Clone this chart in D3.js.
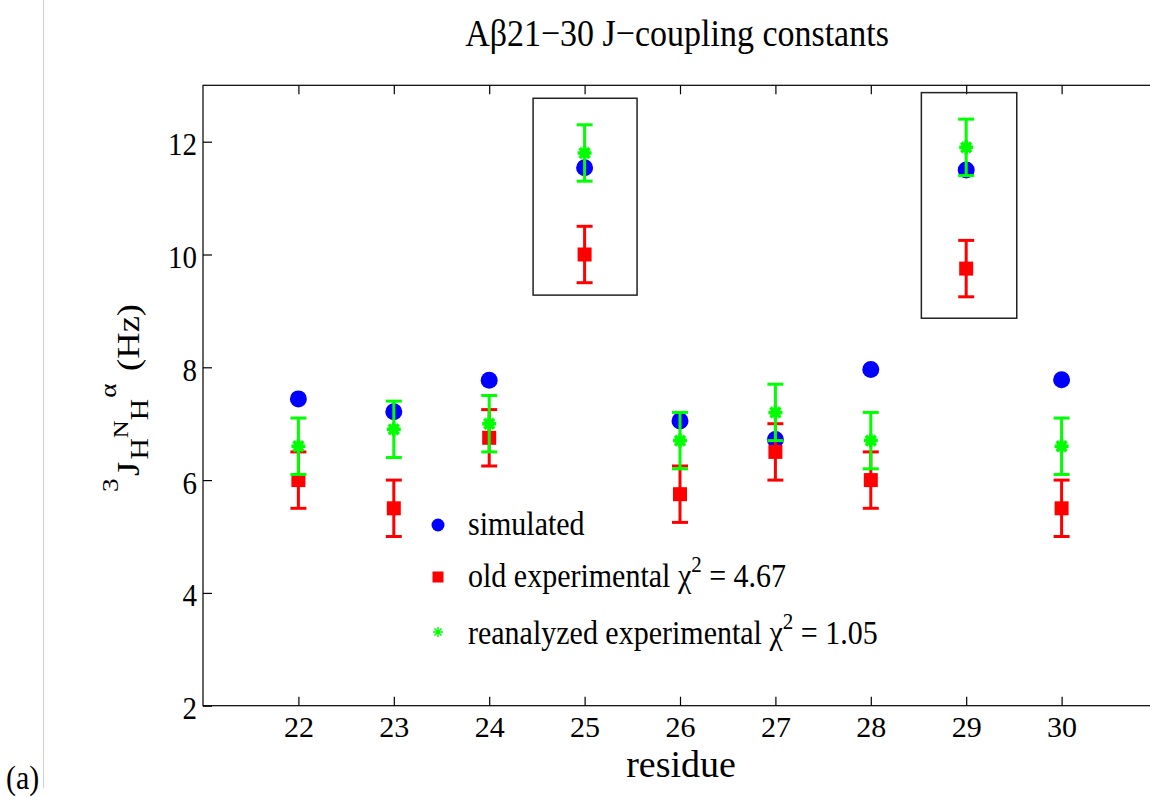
<!DOCTYPE html>
<html><head><meta charset="utf-8">
<script src="https://cdn.jsdelivr.net/npm/d3@7"></script>
<style>body{margin:0;background:#fff}svg{display:block}</style>
</head><body>
<svg id="c" width="1150" height="797"></svg>
<script>
const residues   = [22, 23, 24, 25, 26, 27, 28, 29, 30];
const simulated  = [7.44, 7.21, 7.77, 11.54, 7.05, 6.72, 7.96, 11.50, 7.78];
const oldExp     = [6.0, 5.5, 6.75, 10.0, 5.75, 6.5, 6.0, 9.75, 5.5];
const oldErr     = [0.5, 0.5, 0.5, 0.5, 0.5, 0.5, 0.5, 0.5, 0.5];
const reanalyzed = [6.6, 6.9, 7.0, 11.8, 6.7, 7.2, 6.7, 11.9, 6.6];
const reErr      = [0.5, 0.5, 0.5, 0.5, 0.5, 0.5, 0.5, 0.5, 0.5];
const xTicks = [22, 23, 24, 25, 26, 27, 28, 29, 30];
const yTicks = [2, 4, 6, 8, 10, 12];
const boxX0 = [24.46, 28.53], boxX1 = [25.55, 29.53];
const boxY0 = [9.28, 8.87],  boxY1 = [12.77, 12.87];
const legendLabels = ["simulated", "old experimental", "reanalyzed experimental"];
const legendChi = ["", "4.67", "1.05"];

const FONT = "'Liberation Serif','Times New Roman',serif";
const SY = 1.12;
const svg = d3.select("#c");
const L = 203, R = 1157, T = 85.3, B = 705.7;
const x = d3.scaleLinear().domain([21, 31]).range([L, R]);
const y = d3.scaleLinear().domain([2, 13]).range([B, T]);

svg.append("line").attr("x1", 43.5).attr("x2", 43.5).attr("y1", 0).attr("y2", 788)
  .attr("stroke", "#d0d0d0").attr("stroke-width", 1);

svg.append("rect").attr("x", L).attr("y", T).attr("width", R - L).attr("height", B - T)
  .attr("fill", "none").attr("stroke", "#000").attr("stroke-width", 1.2);

const tl = 9;
const gx = svg.append("g").attr("transform", `translate(0,${B})`)
  .call(d3.axisBottom(x).tickValues(xTicks).tickSize(-tl).tickFormat(d3.format("d")));
const gxt = svg.append("g").attr("transform", `translate(0,${T})`)
  .call(d3.axisTop(x).tickValues(xTicks).tickSize(-tl).tickFormat(""));
const gy = svg.append("g").attr("transform", `translate(${L},0)`)
  .call(d3.axisLeft(y).tickValues(yTicks).tickSize(-tl).tickFormat(d3.format("d")));
[gx, gxt, gy].forEach(g => {
  g.select(".domain").remove();
  g.selectAll(".tick line").attr("stroke", "#000").attr("stroke-width", 1.2);
  g.selectAll("text").attr("font-family", FONT).attr("font-size", 30).attr("fill", "#000");
});
gx.selectAll(".tick text").attr("y", 31.5).attr("dy", null);
gy.selectAll(".tick text").attr("x", null).attr("dy", null).attr("text-anchor", "end")
  .attr("transform", `translate(-6,13) scale(1,${SY})`).attr("font-size", 29);

svg.append("g").selectAll("rect").data(boxX0).join("rect")
  .attr("x", (d, i) => x(boxX0[i])).attr("width", (d, i) => x(boxX1[i]) - x(boxX0[i]))
  .attr("y", (d, i) => y(boxY1[i])).attr("height", (d, i) => y(boxY0[i]) - y(boxY1[i]))
  .attr("fill", "none").attr("stroke", "#222").attr("stroke-width", 1.5);

const cap = 8;
svg.append("g").selectAll("circle").data(residues).join("circle")
  .attr("cx", (d) => x(d)).attr("cy", (d, i) => y(simulated[i])).attr("r", 8.5)
  .attr("fill", "#0000ff");

function errorbars(vals, errs, color) {
  const g = svg.append("g").attr("stroke", color).attr("stroke-width", 3).attr("fill", "none");
  residues.forEach((r, i) => {
    const cx = x(r), lo = y(vals[i] - errs[i]), hi = y(vals[i] + errs[i]);
    g.append("line").attr("x1", cx).attr("x2", cx).attr("y1", lo).attr("y2", hi);
    g.append("line").attr("x1", cx - cap).attr("x2", cx + cap).attr("y1", lo).attr("y2", lo);
    g.append("line").attr("x1", cx - cap).attr("x2", cx + cap).attr("y1", hi).attr("y2", hi);
  });
}
errorbars(oldExp, oldErr, "#ff0000");
svg.append("g").selectAll("rect").data(residues).join("rect")
  .attr("x", (d) => x(d) - 7).attr("y", (d, i) => y(oldExp[i]) - 7)
  .attr("width", 14).attr("height", 14).attr("fill", "#ff0000");

errorbars(reanalyzed, reErr, "#00ff00");
function asterisk(g, cx, cy, s, w) {
  const d = s * 0.7071;
  const p = `M${cx - s},${cy}L${cx + s},${cy}M${cx},${cy - s}L${cx},${cy + s}` +
    `M${cx - d},${cy - d}L${cx + d},${cy + d}M${cx - d},${cy + d}L${cx + d},${cy - d}`;
  g.append("path").attr("d", p).attr("stroke", "#00ff00").attr("stroke-width", w).attr("fill", "none");
}
const ga = svg.append("g");
residues.forEach((r, i) => {
  asterisk(ga, x(r), y(reanalyzed[i]), 7, 3.5);
  ga.append("circle").attr("cx", x(r)).attr("cy", y(reanalyzed[i])).attr("r", 5).attr("fill", "#00ff00");
});

function stext(px, py, size, anchor) {
  return svg.append("text").attr("transform", `translate(${px},${py}) scale(1,${SY})`)
    .attr("text-anchor", anchor || "start").attr("font-family", FONT).attr("font-size", size).attr("fill", "#000");
}
stext(677, 46, 34, "middle").text("Aβ21−30 J−coupling constants");
svg.append("text").attr("x", 681).attr("y", 777).attr("text-anchor", "middle")
  .attr("font-family", FONT).attr("font-size", 38).attr("fill", "#000").text("residue");
stext(6, 789, 30).text("(a)");

// y label
const yl = svg.append("text").attr("transform", "translate(139,398) scale(1,1.18) rotate(-90)")
  .attr("text-anchor", "middle").attr("font-family", FONT).attr("font-size", 31).attr("fill", "#000");
yl.append("tspan").attr("font-size", 23).attr("dy", -21).text("3");
yl.append("tspan").attr("dx", 2).attr("dy", 21).text("J");
yl.append("tspan").attr("font-size", 25).attr("dx", 2).attr("dy", 9).text("H");
yl.append("tspan").attr("font-size", 21).attr("dx", 0).attr("dy", -20).text("N");
yl.append("tspan").attr("font-size", 25).attr("dx", 0).attr("dy", 20).text("H");
yl.append("tspan").attr("font-size", 23).attr("dx", 1).attr("dy", -32).text("α");
yl.append("tspan").attr("dx", 3).attr("dy", 23).text(" (Hz)");

// legend
const lx = 438, ly = [525, 577, 632], lb = [535, 587, 644];
svg.append("circle").attr("cx", lx).attr("cy", ly[0]).attr("r", 6.5).attr("fill", "#0000ff");
svg.append("rect").attr("x", lx - 5.5).attr("y", ly[1] - 5.5).attr("width", 11).attr("height", 11).attr("fill", "#ff0000");
(function () {
  const s = 5, d = s * 0.7071, cx = lx, cy = ly[2];
  svg.append("path").attr("d", `M${cx - s},${cy}L${cx + s},${cy}M${cx},${cy - s}L${cx},${cy + s}M${cx - d},${cy - d}L${cx + d},${cy + d}M${cx - d},${cy + d}L${cx + d},${cy - d}`)
    .attr("stroke", "#00ff00").attr("stroke-width", 1.5).attr("fill", "none");
})();
legendLabels.forEach((t, i) => {
  const tx = stext(468, lb[i], 30).text(t);
  if (legendChi[i]) {
    tx.append("tspan").text(" χ");
    tx.append("tspan").attr("font-size", 21).attr("dy", -13).text("2");
    tx.append("tspan").attr("dy", 13).text(" = " + legendChi[i]);
  }
});
</script>
</body></html>
